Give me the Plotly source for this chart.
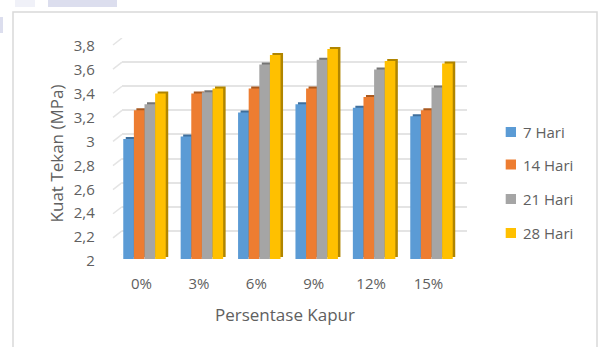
import plotly.graph_objects as go

categories = ["0%", "3%", "6%", "9%", "12%", "15%"]
series_names = ["7 Hari", "14 Hari", "21 Hari", "28 Hari"]
hari_7 = [3.00, 3.02, 3.22, 3.29, 3.26, 3.19]
hari_14 = [3.24, 3.38, 3.42, 3.42, 3.35, 3.24]
hari_21 = [3.29, 3.39, 3.62, 3.66, 3.58, 3.43]
hari_28 = [3.38, 3.42, 3.70, 3.75, 3.65, 3.63]
tick_values = [2, 2.2, 2.4, 2.6, 2.8, 3, 3.2, 3.4, 3.6, 3.8]
tick_labels = ["2", "2,2", "2,4", "2,6", "2,8", "3", "3,2", "3,4", "3,6", "3,8"]

front_colors = ["#5B9BD5", "#ED7D31", "#A5A5A5", "#FFC000"]
side_colors = ["#3F6F9C", "#A9591F", "#757575", "#B08500"]

W, H = 603, 347
TEXT = "#606060"
GRID = "#E4E4E4"


def px_x(a, b):
    return [a / W, b / W]


def px_y(top, bottom):
    return [1 - bottom / H, 1 - top / H]


fig = go.Figure()
values = [hari_7, hari_14, hari_21, hari_28]

# Extruded side faces sit on their own offset axes beneath the front faces.
for name, vals, col in zip(series_names, values, side_colors):
    fig.add_trace(go.Bar(x=categories, y=vals, marker_color=col, marker_line_width=0,
                         xaxis="x2", yaxis="y2", showlegend=False, hoverinfo="skip"))
for name, vals, col in zip(series_names, values, front_colors):
    fig.add_trace(go.Bar(name=name, x=categories, y=vals, marker_color=col, marker_line_width=0,
                         xaxis="x3", yaxis="y3", showlegend=False))
# Invisible carrier so the label axes get drawn.
fig.add_trace(go.Scatter(x=categories, y=hari_7, mode="markers", marker=dict(opacity=0),
                         xaxis="x4", yaxis="y4", showlegend=False, hoverinfo="skip"))

plain = dict(showline=False, zeroline=False, ticks="", automargin=False)
hidden_x = dict(range=[-0.5, 5.5], type="category", categoryarray=categories,
                showticklabels=False, showgrid=False, **plain)
hidden_y = dict(range=[2, 3.8], showticklabels=False, **plain)

fig.update_layout(
    width=W, height=H, autosize=False,
    margin=dict(l=0, r=0, t=0, b=0),
    paper_bgcolor="white", plot_bgcolor="rgba(0,0,0,0)",
    showlegend=False,
    barmode="group", bargap=0.26, bargroupgap=0,
    font=dict(family="Open Sans", size=15, color=TEXT),
    # back wall carrying the gridlines
    xaxis=dict(domain=px_x(122, 466.7), **hidden_x),
    yaxis=dict(domain=px_y(38, 255), tickvals=tick_values, showgrid=True,
               gridcolor=GRID, gridwidth=2, **hidden_y),
    # side faces
    xaxis2=dict(domain=px_x(118.3, 462.7), anchor="y2", **hidden_x),
    yaxis2=dict(domain=px_y(41, 257), anchor="x2", showgrid=False, **hidden_y),
    # front faces
    xaxis3=dict(domain=px_x(115.8, 460.2), anchor="y3", **hidden_x),
    yaxis3=dict(domain=px_y(43, 259), anchor="x3", showgrid=False, **hidden_y),
    # labels and titles
    xaxis4=dict(domain=px_x(112.8, 457.2), range=[-0.5, 5.5], type="category",
                categoryarray=categories, anchor="y4", showgrid=False, ticklabelstandoff=12,
                tickfont=dict(size=15, color=TEXT),
                title=dict(text="Persentase Kapur", standoff=17, font=dict(size=17, color=TEXT)),
                **plain),
    yaxis4=dict(domain=px_y(46, 261), range=[2, 3.8], tickvals=tick_values, ticktext=tick_labels,
                anchor="x4", showgrid=False, ticklabelstandoff=17,
                tickfont=dict(size=15, color=TEXT),
                title=dict(text="Kuat Tekan (MPa)", standoff=5, font=dict(size=17, color=TEXT)),
                **plain),
)

# Chart frame, open along the bottom edge
fig.add_shape(type="path", xref="paper", yref="paper", layer="below",
              path=f"M {13 / W},0 L {13 / W},{1 - 12 / H} L {597 / W},{1 - 12 / H} L {597 / W},0",
              line=dict(color="#D9D9D9", width=1.5))

# Slanted floor ticks joining each gridline to the front plane
for v in tick_values:
    fig.add_shape(type="line", xref="paper", yref="y", xsizemode="pixel", ysizemode="pixel",
                  xanchor=122 / W, yanchor=v, x0=-9, x1=0, y0=-7, y1=0,
                  line=dict(color=GRID, width=1.5))

# Legend column
legend_rows = [132, 164.5, 199, 233]
for name, col, row in zip(series_names, front_colors, legend_rows):
    fig.add_shape(type="rect", xref="paper", yref="paper", line_width=0, fillcolor=col,
                  x0=505.7 / W, x1=516 / W, y0=1 - (row + 5) / H, y1=1 - (row - 5) / H)
    fig.add_annotation(text=name, xref="paper", yref="paper", x=520.5 / W, y=1 - row / H,
                       xanchor="left", yanchor="middle", showarrow=False,
                       font=dict(size=15, color=TEXT))

# Pale artwork showing through above the chart frame
for x0, x1, y1, col in [(15, 35, 7, "#F0F1F8"), (48, 117, 7, "#DCDEEE"), (0, 3, 33, "#DCDEEE")]:
    y0 = 17 if x0 == 0 else 0
    fig.add_shape(type="rect", xref="paper", yref="paper", layer="below", line_width=0,
                  fillcolor=col, x0=x0 / W, x1=x1 / W, y0=1 - y1 / H, y1=1 - y0 / H)

fig.write_html("out.html")
